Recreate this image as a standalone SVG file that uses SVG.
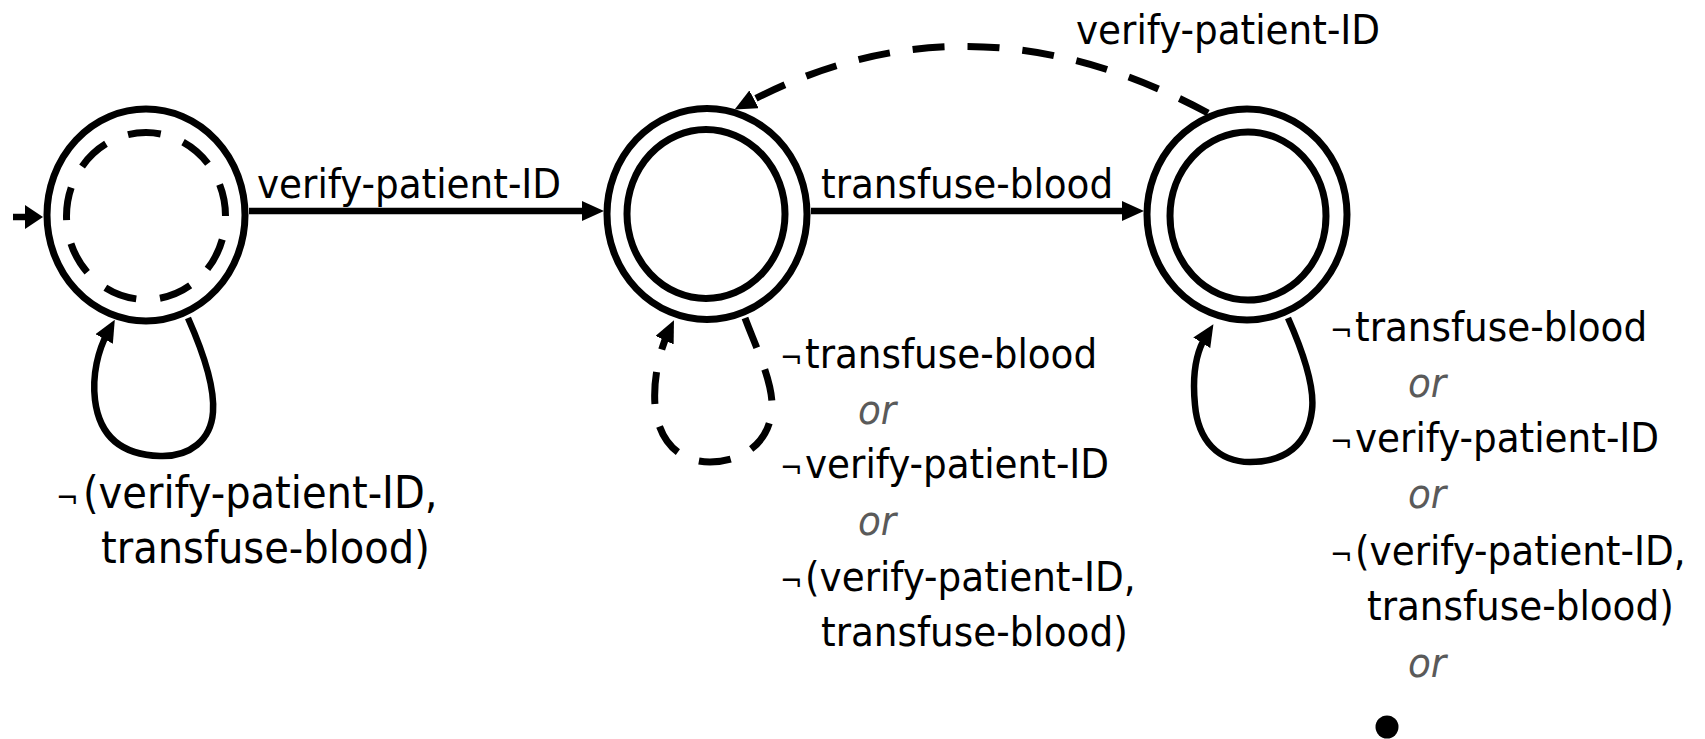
<svg xmlns="http://www.w3.org/2000/svg" width="1705" height="739" viewBox="0 0 1705 739">
  <style>
    .ring { fill: none; stroke: #000; stroke-width: 7; }
    .dash-ring { fill: none; stroke: #000; stroke-width: 7; stroke-dasharray: 33 23.9; }
    .edge { fill: none; stroke: #000; stroke-width: 6.5; }
    .dashed { fill: none; stroke: #000; stroke-width: 7; stroke-dasharray: 32 23; }
    text { font-family: "DejaVu Sans Condensed", "Liberation Sans", sans-serif; font-size: 41.5px; fill: #000; }
    .or { font-style: italic; fill: #5a5a5a; }
    .big { font-size: 44.5px; }
    .neg { font-size: 30px; }
  </style>
  <defs>
    <marker id="arrow" markerUnits="userSpaceOnUse" markerWidth="22" markerHeight="20" refX="8" refY="10" orient="auto">
      <path d="M0,0 L22,10 L0,20 z" fill="#000"/>
    </marker>
    <marker id="start-arrow" markerUnits="userSpaceOnUse" markerWidth="18" markerHeight="24" refX="6" refY="12" orient="auto">
      <path d="M0,0 L18,12 L0,24 z" fill="#000"/>
    </marker>
  </defs>

  <!-- transitions -->
  <g id="connectors">
    <path id="edge-initial" class="edge" stroke-width="8" d="M13,217 L31,217" marker-end="url(#start-arrow)"/>
    <path id="edge-s0-s1" class="edge" d="M249,211 L590,211" marker-end="url(#arrow)"/>
    <path id="edge-s1-s2" class="edge" d="M811,211 L1130,211" marker-end="url(#arrow)"/>
    <path id="edge-s2-s1" class="dashed" d="M1208,113 Q970,-15 747,103" marker-end="url(#arrow)"/>
    <path id="loop-s0" class="edge" d="M188,318 C200,345 215,385 213,412 C211,440 190,457 160,456 C125,455 100,440 95,400 C92,375 98,350 108,332" marker-end="url(#arrow)"/>
    <path id="loop-s1" class="dashed" stroke-dasharray="30 22" d="M745,318 C755,345 772,380 772,405 C772,440 745,462 710,462 C678,462 658,440 655,405 C653,378 660,350 668,333" marker-end="url(#arrow)"/>
    <path id="loop-s2" class="edge" d="M1288,318 C1300,345 1315,385 1312,410 C1308,445 1285,462 1250,462 C1218,462 1198,440 1195,405 C1192,375 1196,352 1206,336" marker-end="url(#arrow)"/>
  </g>

  <!-- edge labels -->
  <g id="edge-labels">
    <text x="257" y="198">verify-patient-ID</text>
    <text x="821" y="198">transfuse-blood</text>
    <text x="1076" y="44">verify-patient-ID</text>
  </g>

  <!-- start state: dashed inner ring -->
  <g id="state-s0">
    <ellipse class="ring" cx="146" cy="215" rx="99" ry="106"/>
    <ellipse class="dash-ring" cx="146" cy="216" rx="79.5" ry="83.5" stroke-dashoffset="33"/>
  </g>

  <!-- accepting states -->
  <g id="state-s1">
    <ellipse class="ring" cx="707" cy="214" rx="100" ry="105.5"/>
    <ellipse class="ring" cx="706" cy="214" rx="79" ry="84.5"/>
  </g>
  <g id="state-s2">
    <ellipse class="ring" cx="1247" cy="214.5" rx="100" ry="105.5"/>
    <ellipse class="ring" cx="1248" cy="216" rx="78" ry="84"/>
  </g>

  <!-- self-loop labels -->
  <g id="label-s0">
    <text class="big" y="508"><tspan class="neg" x="56">¬</tspan><tspan x="83">(verify-patient-ID,</tspan></text>
    <text class="big" x="101" y="563">transfuse-blood)</text>
  </g>
  <g id="label-s1">
    <text y="368"><tspan class="neg" x="780">¬</tspan><tspan x="805">transfuse-blood</tspan></text>
    <text class="or" x="858" y="424">or</text>
    <text y="478"><tspan class="neg" x="780">¬</tspan><tspan x="805">verify-patient-ID</tspan></text>
    <text class="or" x="858" y="535">or</text>
    <text y="591"><tspan class="neg" x="780">¬</tspan><tspan x="805">(verify-patient-ID,</tspan></text>
    <text x="821" y="646">transfuse-blood)</text>
  </g>
  <g id="label-s2">
    <text y="341"><tspan class="neg" x="1330">¬</tspan><tspan x="1355">transfuse-blood</tspan></text>
    <text class="or" x="1408" y="397">or</text>
    <text y="452"><tspan class="neg" x="1330">¬</tspan><tspan x="1355">verify-patient-ID</tspan></text>
    <text class="or" x="1408" y="508">or</text>
    <text y="565"><tspan class="neg" x="1330">¬</tspan><tspan x="1355">(verify-patient-ID,</tspan></text>
    <text x="1367" y="620">transfuse-blood)</text>
    <text class="or" x="1408" y="677">or</text>
    <circle cx="1387" cy="727" r="11.5" fill="#000"/>
  </g>
</svg>
